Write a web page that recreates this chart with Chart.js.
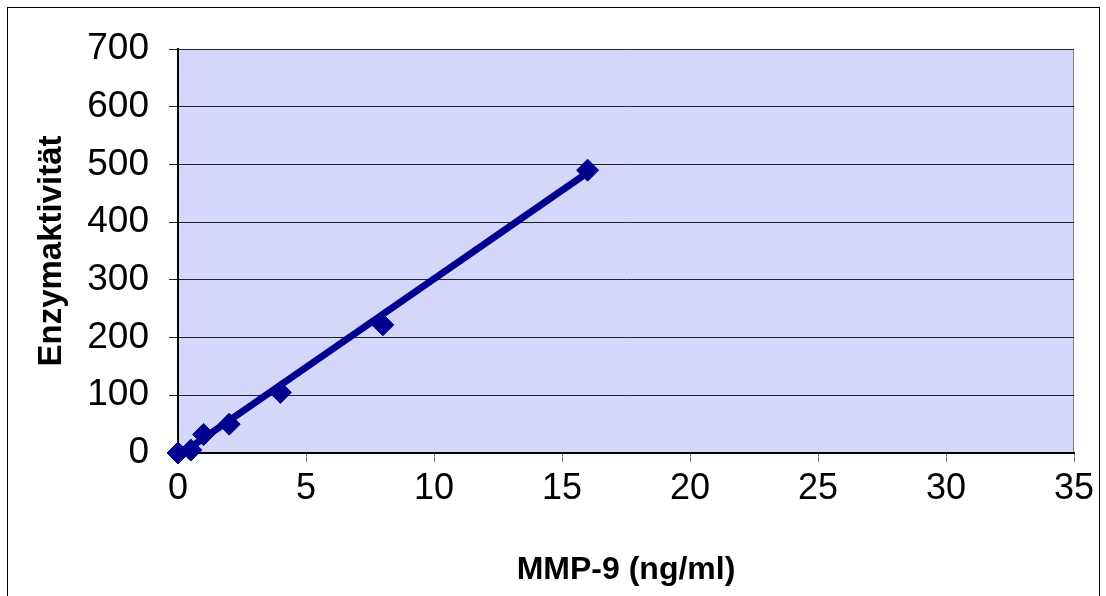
<!DOCTYPE html>
<html>
<head>
<meta charset="utf-8">
<script src="https://cdn.jsdelivr.net/npm/chart.js@4.4.0/dist/chart.umd.min.js"></script>
<style>
  html, body { margin: 0; padding: 0; background: #fff; overflow: hidden; }
  #frame { position: absolute; left: 7px; top: 7px; width: 1091px; height: 620px; border: 1px solid #000; }
  #wrap { position: absolute; left: 0; top: 0; width: 1106px; height: 596px; }
</style>
</head>
<body>
<div id="frame"></div>
<div id="wrap"><canvas id="chart" width="1106" height="596"></canvas></div>
<script>
// measured points
var concentrations = [0, 0.5, 1, 2, 4, 8, 16];
var activity = [0, 5, 32, 50, 105, 222, 490];
// trend line (ends)
var trendX = [0, 16];
var trendY = [-5, 486];

var xTicks = [0, 5, 10, 15, 20, 25, 30, 35];
var yTicks = [0, 100, 200, 300, 400, 500, 600, 700];

var navy = '#000090';

var pts = concentrations.map(function(x, i){ return {x: x, y: activity[i]}; });
var trend = trendX.map(function(x, i){ return {x: x, y: trendY[i]}; });

// plot area background + right edge
var plotBg = {
  id: 'plotBg',
  beforeDraw: function(chart){
    var a = chart.chartArea, c = chart.ctx;
    c.save();
    c.fillStyle = '#D4D7FA';
    c.fillRect(a.left, a.top, a.right - a.left, a.bottom - a.top);
    c.strokeStyle = '#808080';
    c.lineWidth = 1;
    c.beginPath();
    c.moveTo(a.right - 0.5, a.top);
    c.lineTo(a.right - 0.5, a.bottom);
    c.stroke();
    c.restore();
  }
};

new Chart(document.getElementById('chart'), {
  type: 'scatter',
  data: {
    datasets: [{
      label: 'Trend',
      data: trend,
      showLine: true,
      borderColor: navy,
      borderWidth: 7,
      pointRadius: 0,
      fill: false,
      clip: {left: 0, top: 0, right: 0, bottom: 0},
      order: 2
    }, {
      label: 'Enzymaktivität',
      data: pts,
      showLine: false,
      pointStyle: 'rectRot',
      pointRadius: 11,
      pointBackgroundColor: navy,
      pointBorderColor: navy,
      pointBorderWidth: 1,
      clip: false,
      order: 1
    }]
  },
  options: {
    responsive: false,
    animation: false,
    layout: { padding: { top: 49, right: 32, left: 0, bottom: 0 } },
    plugins: { legend: { display: false }, tooltip: { enabled: false } },
    scales: {
      x: {
        type: 'linear',
        min: 0, max: 35,
        afterBuildTicks: function(s){ s.ticks = xTicks.map(function(v){ return {value: v}; }); },
        afterFit: function(s){ s.height = 143; },
        grid: { drawOnChartArea: false, drawTicks: true, tickLength: 9, color: '#808080' },
        border: { display: true, color: '#000', width: 2 },
        ticks: { color: '#000', padding: 5, font: { family: 'Liberation Sans, Arial', size: 36 }, maxRotation: 0 },
        title: { display: true, text: 'MMP-9 (ng/ml)', color: '#000', padding: { top: 0, bottom: 7 },
                 font: { family: 'Liberation Sans, Arial', size: 32, weight: 'bold' } }
      },
      y: {
        type: 'linear',
        min: 0, max: 700,
        afterBuildTicks: function(s){ s.ticks = yTicks.map(function(v){ return {value: v}; }); },
        afterFit: function(s){ s.width = 178; },
        grid: { color: '#222', lineWidth: 1, drawTicks: true, tickLength: 9 },
        border: { display: true, color: '#000', width: 2 },
        ticks: { color: '#000', padding: 20, font: { family: 'Liberation Sans, Arial', size: 37 } },
        title: { display: true, text: 'Enzymaktivität', color: '#000', padding: { top: 32, bottom: 0 },
                 font: { family: 'Liberation Sans, Arial', size: 33, weight: 'bold' } }
      }
    }
  },
  plugins: [plotBg]
});
</script>
</body>
</html>
